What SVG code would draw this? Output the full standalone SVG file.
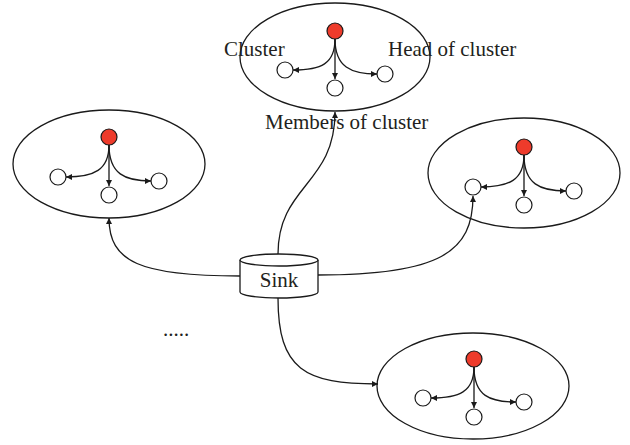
<svg xmlns="http://www.w3.org/2000/svg" width="630" height="445" viewBox="0 0 630 445">
  <defs>
    <marker id="arrow" viewBox="0 0 10 10" refX="10" refY="5" markerWidth="7" markerHeight="6" markerUnits="userSpaceOnUse" orient="auto">
      <path d="M0,0 L10,5 L0,10 Z" fill="#1a1a1a"/>
    </marker>
  </defs>
  <style>
    .outline { fill: none; stroke: #1a1a1a; stroke-width: 1.3; }
    .head { fill: #ee3b2b; stroke: #1a1a1a; stroke-width: 1.2; }
    .member { fill: #ffffff; stroke: #1a1a1a; stroke-width: 1.2; }
    .link { fill: none; stroke: #1a1a1a; stroke-width: 1.3; marker-end: url(#arrow); }
    .label { font-family: "Liberation Serif", "Times New Roman", serif; font-size: 21px; fill: #231f20; }
  </style>

  <!-- connectors from the sink to each cluster -->
  <g id="connectors">
    <path class="link" d="M278,254 C278,185 335,185 335,112"/>
    <path class="link" d="M240,276 C140,276 109,262 109,218"/>
    <path class="link" d="M318,275 C440,275 473,252 473,196"/>
    <path class="link" d="M278,298 C278,370 305,384 378,384"/>
  </g>

  <!-- cluster: head (red) with three members -->
  <g id="cluster-top" transform="translate(335,31)">
    <ellipse class="outline" cx="0" cy="26" rx="95" ry="54"/>
    <path class="link" d="M0,8 L0,48"/>
    <path class="link" d="M0,8 C0,33 -14,39 -42,39"/>
    <path class="link" d="M0,8 C0,36 16,43 42,43"/>
    <circle class="head" cx="0" cy="0" r="8"/>
    <circle class="member" cx="-50" cy="39" r="8"/>
    <circle class="member" cx="0" cy="57" r="8"/>
    <circle class="member" cx="50" cy="43" r="8"/>
  </g>

  <g id="cluster-left" transform="translate(109,137)">
    <ellipse class="outline" cx="0" cy="27" rx="96" ry="54"/>
    <path class="link" d="M0,8 L0,49"/>
    <path class="link" d="M0,8 C0,33 -15,40 -43,40"/>
    <path class="link" d="M0,8 C0,37 16,44 42,44"/>
    <circle class="head" cx="0" cy="0" r="8"/>
    <circle class="member" cx="-51" cy="40" r="8"/>
    <circle class="member" cx="0" cy="58" r="8"/>
    <circle class="member" cx="50" cy="44" r="8"/>
  </g>

  <g id="cluster-right" transform="translate(524,147)">
    <ellipse class="outline" cx="0" cy="26" rx="96" ry="55"/>
    <path class="link" d="M0,8 L0,49"/>
    <path class="link" d="M0,8 C0,33 -15,40 -43,40"/>
    <path class="link" d="M0,8 C0,37 16,44 42,44"/>
    <circle class="head" cx="0" cy="0" r="8"/>
    <circle class="member" cx="-51" cy="40" r="8"/>
    <circle class="member" cx="0" cy="58" r="8"/>
    <circle class="member" cx="50" cy="44" r="8"/>
  </g>

  <g id="cluster-bottom" transform="translate(474,359)">
    <ellipse class="outline" cx="-1" cy="27" rx="96" ry="53"/>
    <path class="link" d="M0,8 L0,49"/>
    <path class="link" d="M0,8 C0,33 -15,39 -43,39"/>
    <path class="link" d="M0,8 C0,37 16,43 42,43"/>
    <circle class="head" cx="0" cy="0" r="8"/>
    <circle class="member" cx="-51" cy="39" r="8"/>
    <circle class="member" cx="0" cy="58" r="8"/>
    <circle class="member" cx="50" cy="43" r="8"/>
  </g>

  <!-- sink drawn as a cylinder -->
  <g id="sink">
    <path d="M240,260 L240,292 A39,6 0 0 0 318,292 L318,260" fill="#ffffff" stroke="#1a1a1a" stroke-width="1.3"/>
    <ellipse cx="279" cy="260" rx="39" ry="6" fill="#ffffff" stroke="#1a1a1a" stroke-width="1.3"/>
    <text class="label" x="279" y="287" font-size="20" text-anchor="middle">Sink</text>
  </g>

  <!-- annotations -->
  <g id="labels">
    <text class="label" x="224" y="56">Cluster</text>
    <text class="label" x="388" y="56">Head of cluster</text>
    <text class="label" x="265" y="129">Members of cluster</text>
    <text class="label" x="163" y="336" font-size="20">.....</text>
  </g>
</svg>
